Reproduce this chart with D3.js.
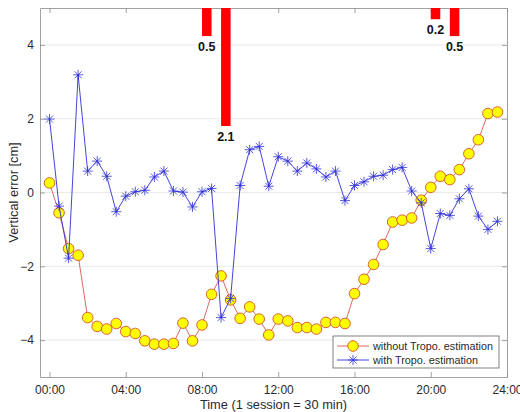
<!DOCTYPE html>
<html>
<head>
<meta charset="utf-8">
<script src="https://cdn.jsdelivr.net/npm/d3@7"></script>
<style>
  body { margin: 0; background: #fff; }
  svg { display: block; font-family: "Liberation Sans", Arial, sans-serif; }
</style>
</head>
<body>
<div id="chart"></div>
<script>
// session start times in hours (1 session = 30 min)
const sessions = d3.range(0, 24, 0.5);

const withoutTropo = [
    0.26, -0.55, -1.52, -1.70, -3.39, -3.63, -3.70, -3.55, -3.77, -3.82,
    -4.02, -4.11, -4.11, -4.09, -3.54, -4.02, -3.59, -2.76, -2.26, -2.91,
    -3.41, -3.10, -3.43, -3.86, -3.43, -3.48, -3.66, -3.66, -3.70, -3.52,
    -3.52, -3.55, -2.74, -2.35, -1.95, -1.41, -0.80, -0.75, -0.69, -0.21,
    0.14, 0.44, 0.35, 0.62, 1.05, 1.43, 2.14, 2.18
];

const withTropo = [
    1.99, -0.37, -1.78, 3.19, 0.58, 0.85, 0.44, -0.52, -0.10, 0.02,
    0.06, 0.42, 0.58, 0.04, 0.01, -0.39, 0.02, 0.11, -3.39, -2.87,
    0.19, 1.16, 1.25, 0.17, 0.97, 0.85, 0.58, 0.80, 0.64, 0.42,
    0.58, -0.22, 0.19, 0.29, 0.44, 0.47, 0.62, 0.68, 0.04, -0.28,
    -1.52, -0.57, -0.62, -0.17, 0.10, -0.64, -1.00, -0.78
];

// data gaps shown as red bars hanging from the top (start hour, gap length)
const gapStart = [8, 9, 20, 21];
const gapLength = [0.5, 2.1, 0.2, 0.5];

const xTicks = [0, 4, 8, 12, 16, 20, 24];
const yTicks = [-4, -2, 0, 2, 4];
const seriesNames = ['without Tropo. estimation', 'with Tropo. estimation'];

const width = 520;
const height = 412;
const margin = { top: 8, right: 13, bottom: 35, left: 40 };

const x = d3.scaleLinear()
    .domain([-0.5, 24])
    .range([margin.left, width - margin.right]);

const y = d3.scaleLinear()
    .domain([-5, 5])
    .range([height - margin.bottom, margin.top]);

const gapScale = d3.scaleLinear()
    .domain([0, 2.1])
    .range([0, 118]);

const axisColor = '#8a8a8a';
const textColor = '#2a2a2a';
const yellowEdge = '#d4502a';
const yellowLine = '#d25a4e';
const blue = '#2f2fd8';

const svg = d3.select('#chart')
    .append('svg')
    .attr('width', width)
    .attr('height', height);

// horizontal grid
svg.append('g')
    .selectAll('line')
    .data(yTicks)
    .enter()
    .append('line')
    .attr('x1', margin.left)
    .attr('x2', width - margin.right)
    .attr('y1', d => y(d))
    .attr('y2', d => y(d))
    .attr('stroke', '#e4e4e4')
    .attr('stroke-width', 0.8);

const pad = h => (h < 10 ? '0' : '') + h + ':00';

const styleAxis = g => {
    g.select('.domain').attr('stroke', axisColor).attr('stroke-width', 0.8);
    g.selectAll('.tick line').attr('stroke', axisColor).attr('stroke-width', 0.8);
    g.selectAll('.tick text').attr('fill', textColor).style('font-size', '12px');
};

svg.append('g')
    .attr('transform', `translate(0, ${height - margin.bottom})`)
    .call(d3.axisBottom(x).tickValues(xTicks).tickFormat(pad)
        .tickSizeInner(-5).tickSizeOuter(0).tickPadding(8))
    .call(styleAxis);

svg.append('g')
    .attr('transform', `translate(0, ${margin.top})`)
    .call(d3.axisTop(x).tickValues(xTicks).tickFormat('')
        .tickSizeInner(-5).tickSizeOuter(0))
    .call(styleAxis);

svg.append('g')
    .attr('transform', `translate(${margin.left}, 0)`)
    .call(d3.axisLeft(y).tickValues(yTicks)
        .tickSizeInner(-5).tickSizeOuter(0).tickPadding(6))
    .call(styleAxis);

svg.append('g')
    .attr('transform', `translate(${width - margin.right}, 0)`)
    .call(d3.axisRight(y).tickValues(yTicks).tickFormat('')
        .tickSizeInner(-5).tickSizeOuter(0))
    .call(styleAxis);

// axis titles
svg.append('text')
    .attr('x', (margin.left + width - margin.right) / 2)
    .attr('y', 409)
    .attr('text-anchor', 'middle')
    .attr('fill', textColor)
    .style('font-size', '12.8px')
    .text('Time (1 session = 30 min)');

svg.append('text')
    .attr('transform', `translate(18, ${(margin.top + height - margin.bottom) / 2}) rotate(-90)`)
    .attr('text-anchor', 'middle')
    .attr('fill', textColor)
    .style('font-size', '12.8px')
    .text('Vertical error [cm]');

const starPath = 'M-5,0L5,0M0,-5L0,5M-3.5,-3.5L3.5,3.5M-3.5,3.5L3.5,-3.5';

const line = d3.line()
    .x((d, i) => x(sessions[i]))
    .y(d => y(d));

// series without troposphere estimation
svg.append('path')
    .datum(withoutTropo)
    .attr('d', line)
    .attr('fill', 'none')
    .attr('stroke', yellowLine)
    .attr('stroke-width', 0.9);

svg.append('g')
    .selectAll('circle')
    .data(withoutTropo)
    .enter()
    .append('circle')
    .attr('cx', (d, i) => x(sessions[i]))
    .attr('cy', d => y(d))
    .attr('r', 5.3)
    .attr('fill', '#ffff00')
    .attr('stroke', yellowEdge)
    .attr('stroke-width', 0.9);

// series with troposphere estimation
svg.append('path')
    .datum(withTropo)
    .attr('d', line)
    .attr('fill', 'none')
    .attr('stroke', blue)
    .attr('stroke-width', 0.9);

svg.append('g')
    .selectAll('path')
    .data(withTropo)
    .enter()
    .append('path')
    .attr('transform', (d, i) => `translate(${x(sessions[i])}, ${y(d)})`)
    .attr('d', starPath)
    .attr('fill', 'none')
    .attr('stroke', blue)
    .attr('stroke-width', 0.8);

// gap bars
const gaps = gapStart.map((s, i) => ({ start: s, len: gapLength[i] }));

svg.append('g')
    .selectAll('rect')
    .data(gaps)
    .enter()
    .append('rect')
    .attr('x', d => x(d.start))
    .attr('y', margin.top)
    .attr('width', d => x(d.start + 0.5) - x(d.start))
    .attr('height', d => gapScale(d.len))
    .attr('fill', '#ff0000');

svg.append('g')
    .selectAll('text')
    .data(gaps)
    .enter()
    .append('text')
    .attr('x', d => x(d.start + 0.25))
    .attr('y', d => margin.top + gapScale(d.len) + 15)
    .attr('text-anchor', 'middle')
    .attr('fill', '#111')
    .style('font-size', '12.5px')
    .style('font-weight', 'bold')
    .text(d => d.len.toFixed(1));

// legend
const legend = svg.append('g')
    .attr('transform', 'translate(333, 336)');

legend.append('rect')
    .attr('width', 166)
    .attr('height', 32)
    .attr('fill', '#fff')
    .attr('stroke', '#4a4a4a')
    .attr('stroke-width', 0.7);

const entry1 = legend.append('g').attr('transform', 'translate(0, 10)');
entry1.append('line')
    .attr('x1', 4).attr('x2', 36)
    .attr('stroke', yellowLine).attr('stroke-width', 0.9);
entry1.append('circle')
    .attr('cx', 20).attr('r', 5.3)
    .attr('fill', '#ffff00').attr('stroke', yellowEdge).attr('stroke-width', 0.9);
entry1.append('text')
    .attr('x', 40).attr('dy', '0.35em')
    .attr('fill', textColor)
    .style('font-size', '10.8px')
    .text(seriesNames[0]);

const entry2 = legend.append('g').attr('transform', 'translate(0, 24)');
entry2.append('line')
    .attr('x1', 4).attr('x2', 36)
    .attr('stroke', blue).attr('stroke-width', 0.9);
entry2.append('path')
    .attr('transform', 'translate(20, 0)')
    .attr('d', starPath)
    .attr('fill', 'none').attr('stroke', blue).attr('stroke-width', 0.8);
entry2.append('text')
    .attr('x', 40).attr('dy', '0.35em')
    .attr('fill', textColor)
    .style('font-size', '10.8px')
    .text(seriesNames[1]);
</script>
</body>
</html>
